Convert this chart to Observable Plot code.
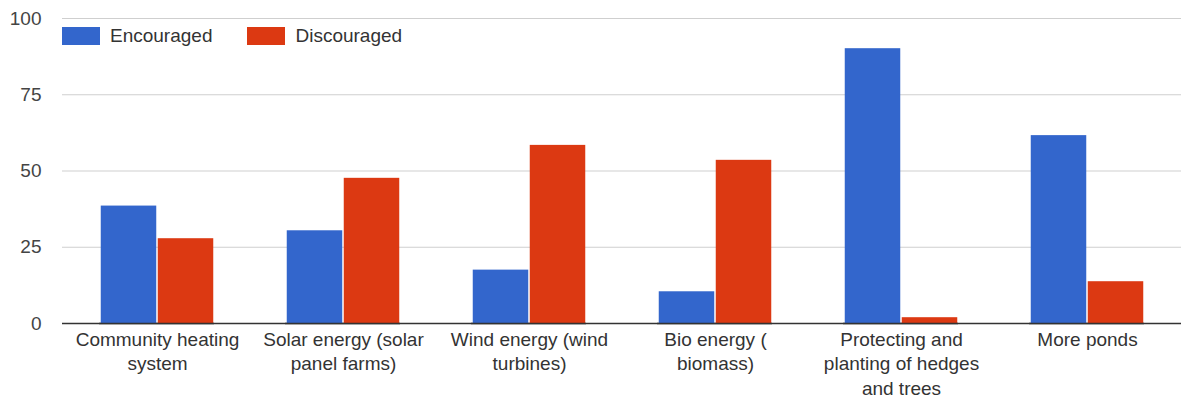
<!DOCTYPE html>
<html>
<head>
<meta charset="utf-8">
<script src="https://cdn.jsdelivr.net/npm/d3@7"></script>
<script src="https://cdn.jsdelivr.net/npm/@observablehq/plot@0.6"></script>
<style>
  html, body { margin: 0; padding: 0; background: #fff; }
  #wrap { position: relative; width: 1181px; height: 401px; font-family: "Liberation Sans", Arial, sans-serif; }
  #wrap svg { position: absolute; left: 0; top: 0; }
  #legend { position: absolute; top: 25px; left: 62px; display: flex; align-items: center; font-size: 19px; color: #333; }
  .item { display: flex; align-items: center; margin-right: 35px; }
  .sw { width: 38px; height: 18px; margin-right: 10px; }
</style>
</head>
<body>
<div id="wrap"><div id="legend"></div></div>
<script>
const categories = [
  "Community heating system",
  "Solar energy (solar panel farms)",
  "Wind energy (wind turbines)",
  "Bio energy ( biomass)",
  "Protecting and planting of hedges and trees",
  "More ponds"
];
const tickLabels = [
  "Community heating\nsystem",
  "Solar energy (solar\npanel farms)",
  "Wind energy (wind\nturbines)",
  "Bio energy (\nbiomass)",
  "Protecting and\nplanting of hedges\nand trees",
  "More ponds"
];
const series = ["Encouraged", "Discouraged"];
const encouraged = [38.5, 30.4, 17.5, 10.4, 90.1, 61.6];
const discouraged = [27.8, 47.6, 58.4, 53.5, 1.9, 13.7];
const colors = ["#3366cc", "#dc3912"];
const yTicks = [0, 25, 50, 75, 100];

const values = {Encouraged: encouraged, Discouraged: discouraged};
const data = categories.flatMap((c, i) => series.map(s => ({category: c, series: s, value: values[s][i]})));

const common = {
  width: 1181,
  height: 401,
  marginTop: 18,
  marginBottom: 78,
  marginLeft: 62,
  marginRight: 0,
  y: {domain: [0, 100], axis: null}
};
const font = "'Liberation Sans', Arial, sans-serif";

// Background layer: grid, tick labels, baseline
const back = Plot.plot({
  ...common,
  style: {fontFamily: font, fontSize: "19px", background: "#fff", overflow: "visible"},
  x: {domain: categories, paddingInner: 0.383, paddingOuter: 0.19, axis: null},
  marks: [
    Plot.ruleY(yTicks.slice(1), {stroke: "#cfcfcf", strokeWidth: 1}),
    Plot.text(yTicks, {y: d => d, text: d => String(d), frameAnchor: "left", textAnchor: "end", dx: -21, fill: "#444", fontSize: 19}),
    Plot.axisX({tickSize: 0, tickPadding: 5, tickFormat: d => tickLabels[categories.indexOf(d)], lineHeight: 1.29, fontSize: 19, fill: "#333", label: null}),
    Plot.ruleY([0], {stroke: "#333", strokeWidth: 1.5})
  ]
});

// Foreground layer: grouped bars
const front = Plot.plot({
  ...common,
  style: {fontFamily: font, fontSize: "19px", background: "transparent", overflow: "visible"},
  fx: {domain: categories, paddingInner: 0.383, paddingOuter: 0.19, axis: null, label: null},
  x: {domain: series, padding: 0, axis: null},
  color: {domain: series, range: colors},
  marks: [
    Plot.barY(data, {fx: "category", x: "series", y: "value", fill: "series", insetLeft: 0.75, insetRight: 0.75}),
    Plot.ruleY([0], {stroke: "#333", strokeWidth: 1.5})
  ]
});

const wrap = document.getElementById("wrap");
wrap.prepend(front);
wrap.prepend(back);

const legend = document.getElementById("legend");
series.forEach((s, i) => {
  const item = document.createElement("div");
  item.className = "item";
  const sw = document.createElement("div");
  sw.className = "sw";
  sw.style.background = colors[i];
  const t = document.createElement("span");
  t.textContent = s;
  item.append(sw, t);
  legend.append(item);
});
</script>
</body>
</html>
